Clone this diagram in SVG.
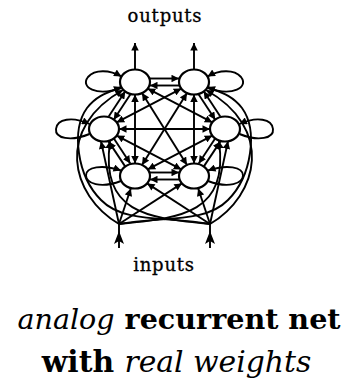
<svg xmlns="http://www.w3.org/2000/svg" width="345" height="382" viewBox="0 0 345 382">
<defs>
<marker id="ah" viewBox="0 0 10 10" refX="10" refY="5" markerWidth="8" markerHeight="7.5" markerUnits="userSpaceOnUse" orient="auto-start-reverse"><path d="M0,0 L10,5 L0,10 z" fill="#000"/></marker>
</defs>
<style>
.e{fill:none;stroke:#000;stroke-width:1.9;marker-end:url(#ah)}
.b{fill:none;stroke:#000;stroke-width:1.9;marker-start:url(#ah);marker-end:url(#ah)}
.l{fill:none;stroke:#000;stroke-width:1.9}
.n{fill:#fff;stroke:#000;stroke-width:2.2}
.lbl{font-family:"DejaVu Serif",serif;font-size:18px;letter-spacing:0.8px;text-anchor:middle;stroke:#000;stroke-width:0.3}
.cap{font-family:"DejaVu Serif",serif;font-weight:bold;text-anchor:middle}
.it{font-style:italic;font-weight:normal}
</style>
<rect width="345" height="382" fill="#fff"/>
<text class="lbl" x="165" y="22">outputs</text>
<text class="lbl" x="164" y="271">inputs</text>
<g id="connectors">
<path class="e" d="M135,69.5 L135,43"/>
<path class="e" d="M194,69.5 L194,43"/>
<path class="l" d="M119,248 L119,224"/>
<path class="l" d="M210,248 L210,224"/>
<path d="M119,231 L114,244 L119,241 L124,244 z" fill="#000"/>
<path d="M210,231 L205,244 L210,241 L215,244 z" fill="#000"/>
<path class="e" d="M150,78.5 L179,78.5"/>
<path class="e" d="M179,85.5 L150,85.5"/>
<path class="e" d="M150,172.5 L179,172.5"/>
<path class="e" d="M179,179.5 L150,179.5"/>
<path class="e" d="M130.3,94.6 L113.7,119.7"/>
<path class="e" d="M108.7,116.4 L125.3,91.3"/>
<path class="e" d="M198.7,94.6 L215.3,119.7"/>
<path class="e" d="M220.3,116.4 L203.7,91.3"/>
<path class="e" d="M113.7,138.3 L130.3,163.4"/>
<path class="e" d="M125.3,166.6 L108.7,141.6"/>
<path class="e" d="M215.3,138.3 L198.7,163.4"/>
<path class="e" d="M203.7,166.6 L220.3,141.6"/>
<path class="b" d="M135,94.5 L135,163.5"/>
<path class="b" d="M194,94.5 L194,163.5"/>
<path class="b" d="M142,93.1 L187,164.9"/>
<path class="b" d="M187,93.1 L142,164.9"/>
<path class="b" d="M119,129 L210,129"/>
<path class="b" d="M147.7,88.6 L212.3,122.4"/>
<path class="b" d="M181.3,88.6 L116.7,122.4"/>
<path class="b" d="M116.7,135.6 L181.3,169.4"/>
<path class="b" d="M212.3,135.6 L147.7,169.4"/>
<path class="e" d="M121,88 C96,97 80,87 88,77 C95,69 110,70 121.5,76.5"/>
<path class="e" d="M208,88 C233,97 249,87 241,77 C234,69 219,70 207.5,76.5"/>
<path class="e" d="M89.5,134 C70,142 55,138 56,129 C57,119 72,116 89.5,124"/>
<path class="e" d="M239.5,134 C259,142 274,138 273,129 C272,119 257,116 239.5,124"/>
<path class="e" d="M121,181 C100,189 86,183 86,175.5 C86,167 102,164 121,170.5"/>
<path class="e" d="M208,181 C229,189 243,183 243,175.5 C243,167 227,164 208,170.5"/>
<path class="e" d="M119,224 L130.8,188.5"/>
<path class="e" d="M119,224 L101,141.3"/>
<path class="e" d="M119,224 C179,218 229,215 219,141"/>
<path class="e" d="M119,224 C70,195 55,128 123,90"/>
<path class="e" d="M119,224 L181.9,183.4"/>
<path class="e" d="M119,224 C160,216 205,224 228,200 C252,176 258,130 242,108 C232,95 220,92 207.5,87"/>
<path class="e" d="M210,224 L198.2,188.5"/>
<path class="e" d="M210,224 L228,141.3"/>
<path class="e" d="M210,224 C150,218 100,215 110,141"/>
<path class="e" d="M210,224 C259,195 274,128 206,90"/>
<path class="e" d="M210,224 L147.1,183.4"/>
<path class="e" d="M210,224 C169,216 124,224 101,200 C77,176 71,130 87,108 C97,95 109,92 121.5,87"/>
</g>
<g id="n-tl"><ellipse class="n" cx="135" cy="82" rx="15" ry="12.5"/></g>
<g id="n-tr"><ellipse class="n" cx="194" cy="82" rx="15" ry="12.5"/></g>
<g id="n-ml"><ellipse class="n" cx="104" cy="129" rx="15" ry="12.5"/></g>
<g id="n-mr"><ellipse class="n" cx="225" cy="129" rx="15" ry="12.5"/></g>
<g id="n-bl"><ellipse class="n" cx="135" cy="176" rx="15" ry="12.5"/></g>
<g id="n-br"><ellipse class="n" cx="194" cy="176" rx="15" ry="12.5"/></g>
<text class="cap" x="179" y="328.5" font-size="28.6"><tspan class="it">analog</tspan> recurrent net</text>
<text class="cap" x="176.5" y="372" font-size="29.8">with <tspan class="it">real weights</tspan></text>
</svg>
